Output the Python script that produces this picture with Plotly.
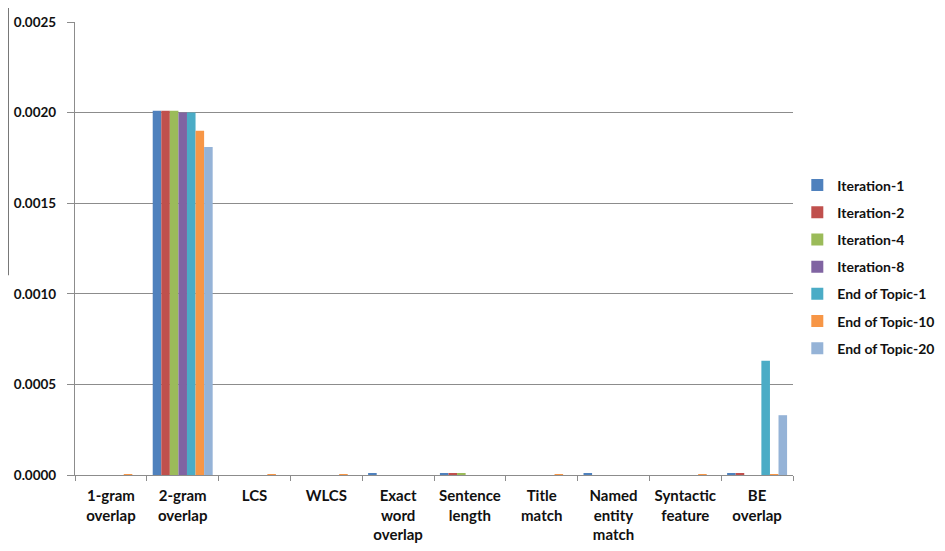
import plotly.graph_objects as go

categories = ["1-gram<br>overlap", "2-gram<br>overlap", "LCS", "WLCS", "Exact<br>word<br>overlap",
              "Sentence<br>length", "Title<br>match", "Named<br>entity<br>match", "Syntactic<br>feature", "BE<br>overlap"]

series_names = ["Iteration-1", "Iteration-2", "Iteration-4", "Iteration-8",
                "End of Topic-1", "End of Topic-10", "End of Topic-20"]

iteration_1 = [0.0, 0.00201, 0.0, 0.0, 0.000008, 0.000006, 0.0, 0.000008, 0.0, 0.000008]
iteration_2 = [0.0, 0.00201, 0.0, 0.0, 0.0, 0.000006, 0.0, 0.0, 0.0, 0.000008]
iteration_4 = [0.0, 0.00201, 0.0, 0.0, 0.0, 0.000006, 0.0, 0.0, 0.0, 0.0]
iteration_8 = [0.0, 0.00200, 0.0, 0.0, 0.0, 0.0, 0.0, 0.0, 0.0, 0.0]
end_topic_1 = [0.0, 0.00200, 0.0, 0.0, 0.0, 0.0, 0.0, 0.0, 0.0, 0.00063]
end_topic_10 = [0.000005, 0.00190, 0.000005, 0.000005, 0.0, 0.0, 0.000005, 0.0, 0.000005, 0.000005]
end_topic_20 = [0.0, 0.00181, 0.0, 0.0, 0.0, 0.0, 0.0, 0.0, 0.0, 0.00033]

series_values = [iteration_1, iteration_2, iteration_4, iteration_8,
                 end_topic_1, end_topic_10, end_topic_20]
colors = ["#4F81BD", "#C0504D", "#9BBB59", "#8064A2", "#4BACC6", "#F79646", "#95B3D7"]

y_ticks = [0.0, 0.0005, 0.0010, 0.0015, 0.0020, 0.0025]
y_tick_labels = ["0.0000", "0.0005", "0.0010", "0.0015", "0.0020", "0.0025"]

fig = go.Figure()
for name, vals, col in zip(series_names, series_values, colors):
    fig.add_trace(go.Bar(name=name, x=categories, y=vals, legendgroup=name,
                         marker=dict(color=col, line=dict(width=0))))

# page body has an 8px margin, so the figure is offset by (8, 8) on screen
fig.update_layout(
    width=945, height=551,
    margin=dict(l=67, r=160, t=14, b=84, autoexpand=False),
    paper_bgcolor="white", plot_bgcolor="white",
    barmode="group", bargap=0.165, bargroupgap=0,
    font=dict(family="Lato, 'Open Sans', sans-serif", size=15, color="#111111", weight="bold"),
    showlegend=True,
    legend=dict(x=1.006, y=0.6745, xanchor="left", yanchor="top",
                font=dict(size=14, color="#111111", weight="bold"), tracegroupgap=6,
                itemwidth=30, bgcolor="rgba(0,0,0,0)"),
    xaxis=dict(showline=True, linecolor="#8c8c8c", linewidth=1.2, automargin=False,
               ticks="outside", ticklen=5, tickcolor="#8c8c8c", tickson="boundaries",
               tickangle=0, ticklabelstandoff=7,
               showgrid=False, tickfont=dict(size=15, color="#111111", weight="bold")),
    yaxis=dict(range=[0, 0.0025], tickvals=y_ticks, ticktext=y_tick_labels, automargin=False,
               showgrid=True, gridcolor="#8c8c8c", gridwidth=1,
               showline=True, linecolor="#8c8c8c", linewidth=1.2,
               ticks="outside", ticklen=7, tickcolor="#8c8c8c", ticklabelstandoff=8,
               zeroline=False, tickfont=dict(size=13.5, color="#111111", weight="bold")),
)

fig.add_shape(type="line", xref="paper", yref="paper",
              x0=-0.0933, x1=-0.0933, y0=1.0486, y1=0.441,
              line=dict(color="#222222", width=1.2))

fig.write_html("out.html")
